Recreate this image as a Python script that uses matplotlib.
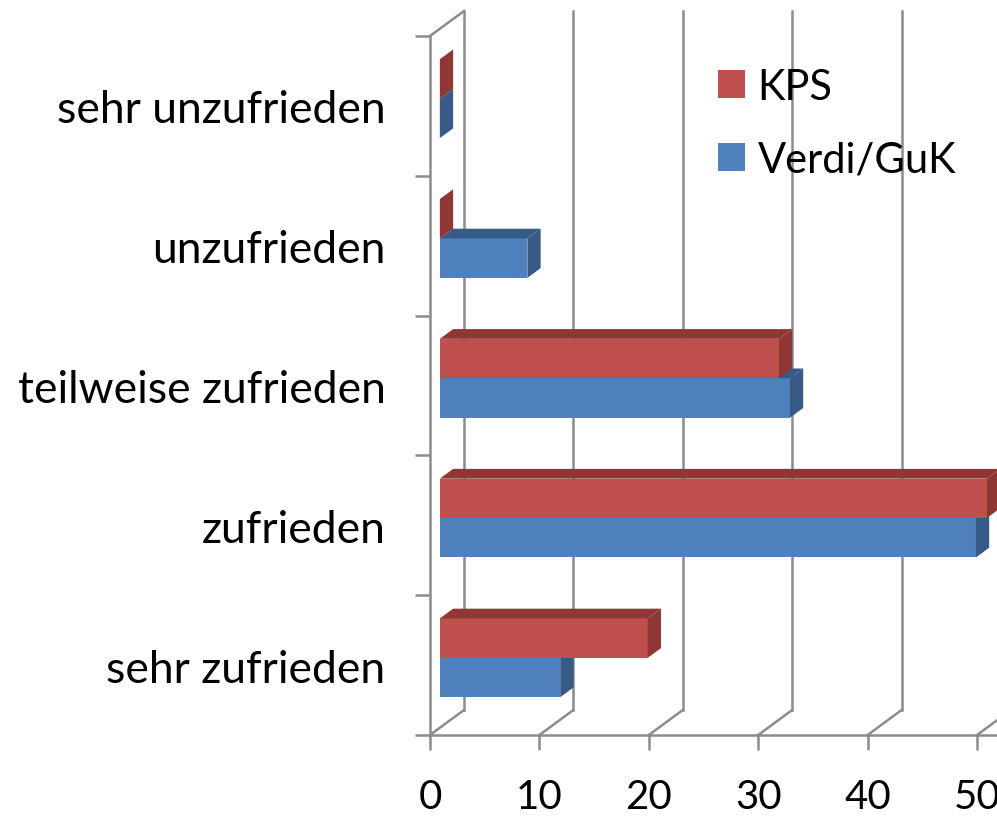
import matplotlib
matplotlib.use("Agg")
import matplotlib.pyplot as plt
from matplotlib.patches import Polygon, Patch

categories = ["sehr zufrieden", "zufrieden", "teilweise zufrieden", "unzufrieden", "sehr unzufrieden"]
kps = [19, 50, 31, 0, 0]
verdi = [11, 49, 32, 8, 0]
series_names = ["KPS", "Verdi/GuK"]
xticks = [0, 10, 20, 30, 40, 50]

RED_FRONT, RED_DARK = "#C0504D", "#8E3735"
BLUE_FRONT, BLUE_DARK = "#4F81BD", "#375A87"
GRID = "#8C8C8C"
FONT = "Lato"

W, H = 997, 820
fig = plt.figure(figsize=(W / 100, H / 100), dpi=100)
ax = fig.add_axes([430 / W, 84 / H, 547 / W, 699 / H])
ax.set_xlim(0, 50)
ax.set_ylim(-0.5, 4.5)
for s in ax.spines.values():
    s.set_visible(False)

# depth offsets in data units
DX = 34 / 547 * 50
DY = 25 / 699 * 5
D0, D1 = 0.29, 0.68
BH = 0.282
LW = 1.8

# walls / gridlines
ax.plot([0, 0], [-0.5, 4.5], color=GRID, lw=LW, clip_on=False, zorder=1)
ax.plot([DX, DX], [-0.5 + DY, 4.5 + DY], color=GRID, lw=LW, clip_on=False, zorder=1)
ax.plot([0, DX], [4.5, 4.5 + DY], color=GRID, lw=LW, clip_on=False, zorder=1)
for v in xticks:
    ax.plot([v, v + DX], [-0.5, -0.5 + DY], color=GRID, lw=LW, clip_on=False, zorder=1)
    if v > 0:
        ax.plot([v + DX, v + DX], [-0.5 + DY, 4.5 + DY], color=GRID, lw=LW, clip_on=False, zorder=1)
ax.plot([0, 60], [-0.5, -0.5], color=GRID, lw=LW, clip_on=False, zorder=1)


def bar3d(v, yb, front, dark):
    yt = yb + BH
    x0f, y0f = D0 * DX, D0 * DY
    x1f, y1f = D1 * DX, D1 * DY
    ax.add_patch(Polygon([(x0f, yb + y0f), (v + x0f, yb + y0f), (v + x0f, yt + y0f), (x0f, yt + y0f)],
                         closed=True, facecolor=front, edgecolor="none", zorder=3, clip_on=False))
    ax.add_patch(Polygon([(x0f, yt + y0f), (v + x0f, yt + y0f), (v + x1f, yt + y1f), (x1f, yt + y1f)],
                         closed=True, facecolor=dark, edgecolor="none", zorder=3, clip_on=False))
    ax.add_patch(Polygon([(v + x0f, yb + y0f), (v + x1f, yb + y1f), (v + x1f, yt + y1f), (v + x0f, yt + y0f)],
                         closed=True, facecolor=dark, edgecolor="none", zorder=3, clip_on=False))


for i in range(len(categories)):
    bar3d(verdi[i], i - BH, BLUE_FRONT, BLUE_DARK)
    bar3d(kps[i], i, RED_FRONT, RED_DARK)

# ticks
ax.set_xticks(xticks)
ax.set_xticklabels([str(t) for t in xticks], fontsize=29, family=FONT)
ax.tick_params(axis="x", direction="out", length=11, width=LW, color=GRID, pad=20)
ax.set_yticks([-0.5, 0.5, 1.5, 2.5, 3.5, 4.5])
ax.set_yticklabels([])
ax.tick_params(axis="y", which="major", direction="out", length=11, width=LW, color=GRID)
ax.set_yticks(range(len(categories)), minor=True)
ax.set_yticklabels(categories, minor=True, fontsize=32, family=FONT)
ax.tick_params(axis="y", which="minor", length=0, pad=32)

handles = [Patch(facecolor=RED_FRONT), Patch(facecolor=BLUE_FRONT)]
fig.legend(handles, series_names, loc="upper left", bbox_to_anchor=(680 / W, 1 - 31 / H),
           frameon=False, prop={"family": FONT, "size": 30},
           handlelength=0.65, handleheight=0.65, handletextpad=0.31, labelspacing=0.85)

fig.savefig("out.png", dpi=100)
